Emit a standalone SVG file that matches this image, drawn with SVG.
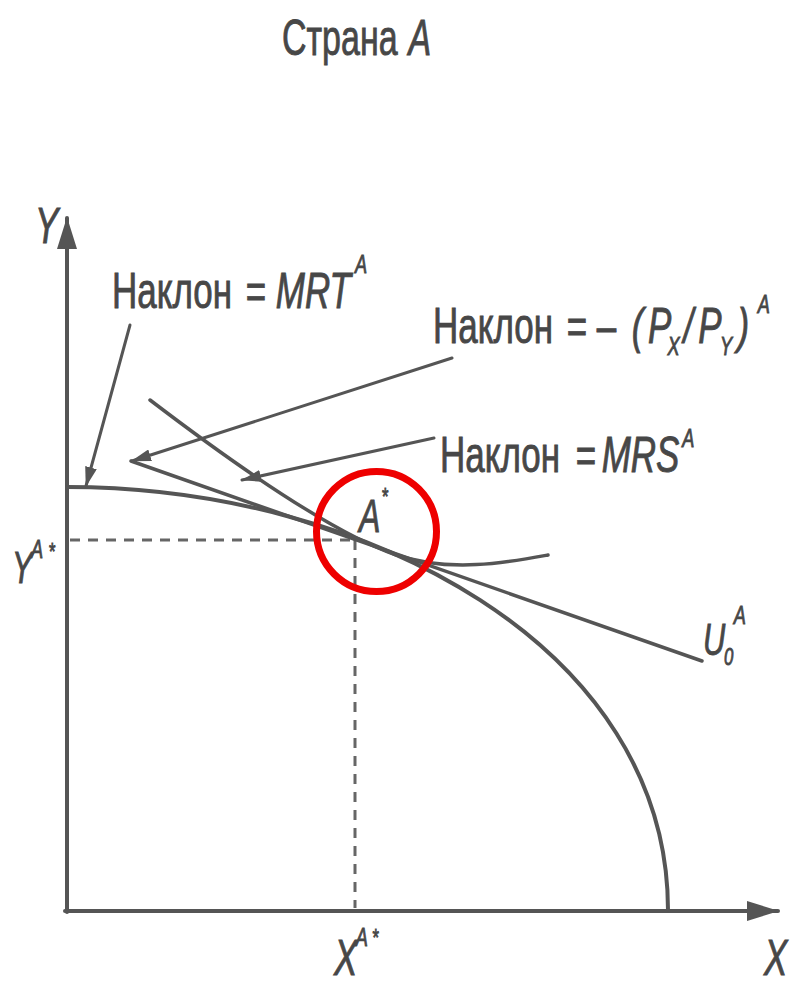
<svg xmlns="http://www.w3.org/2000/svg" width="797" height="987" viewBox="0 0 797 987">
<style>
.t{font-family:"Liberation Sans","DejaVu Sans",sans-serif;fill:#474747;stroke:#474747;stroke-width:0.9;}
.i{font-style:italic;}
.ln{fill:none;stroke:#555;stroke-linecap:round;}
.dash{fill:none;stroke:#666;stroke-width:3;stroke-dasharray:10 8;}
</style>
<defs>
<marker id="ah" viewBox="0 0 20 12" refX="19" refY="6" markerWidth="20" markerHeight="12" orient="auto" markerUnits="userSpaceOnUse"><path d="M0,0 L20,6 L0,12 z" fill="#555"/></marker>
<marker id="axh" viewBox="0 0 32 20" refX="31" refY="10" markerWidth="32" markerHeight="20" orient="auto" markerUnits="userSpaceOnUse"><path d="M0,0 L32,10 L0,20 z" fill="#555"/></marker>
</defs>
<rect width="797" height="987" fill="#ffffff"/>

<g id="title">
<text class="t" transform="translate(282,55) scale(0.68,1)" font-size="50">Страна<tspan class="i" x="186">A</tspan></text>
</g>

<g id="axes">
<path class="ln" d="M67,912 L67,218" stroke-width="4" marker-end="url(#axh)"/>
<path class="ln" d="M65,911 L778,911" stroke-width="4" marker-end="url(#axh)"/>
<text class="t i" transform="translate(35,243) scale(0.7,1)" font-size="50">Y</text>
<text class="t i" transform="translate(764,975) scale(0.7,1)" font-size="50">X</text>
</g>

<g id="guides">
<path class="dash" d="M70,540 L355,540"/>
<path class="dash" d="M355,540 L355,908"/>
<text class="t i" transform="translate(12,583) scale(0.7,1)" font-size="44">Y<tspan x="27" y="-25" font-size="26">A</tspan><tspan x="53" y="-23" font-size="24" font-style="normal">*</tspan></text>
<text class="t i" transform="translate(334,975) scale(0.7,1)" font-size="50">X<tspan x="31" y="-29" font-size="26">A</tspan><tspan x="55" y="-29" font-size="24" font-style="normal">*</tspan></text>
</g>

<g id="ppf">
<path class="ln" d="M67,487 C367.5,487 668,647.7 668,910" stroke-width="4"/>
</g>

<g id="price-line">
<path class="ln" d="M131,461 L702,661" stroke-width="3.5"/>
</g>

<g id="indifference-curve">
<path class="ln" d="M150,400 C230,461 330,532 395,554.5 C450,573.6 510,562 548,555" stroke-width="3.5"/>
<text class="t i" transform="translate(703,655) scale(0.7,1)" font-size="44">U<tspan x="30" y="10" font-size="24">0</tspan><tspan x="44" y="-31" font-size="26">A</tspan></text>
</g>

<g id="point-A">
<text class="t i" transform="translate(359,532) scale(0.7,1)" font-size="46">A<tspan x="33" y="-27" font-size="24" font-style="normal">*</tspan></text>
<circle cx="376.5" cy="531.5" r="60" fill="none" stroke="#ee0000" stroke-width="7"/>
</g>

<g id="label-MRT">
<text class="t" transform="translate(112,308) scale(0.7,1)" font-size="50">Наклон<tspan x="191">=</tspan><tspan class="i" x="234">MRT</tspan><tspan class="i" x="347" y="-35" font-size="26">A</tspan></text>
</g>

<g id="label-price">
<text class="t" transform="translate(433,343) scale(0.7,1)" font-size="50">Наклон<tspan x="191">=</tspan><tspan x="234">–</tspan><tspan class="i" x="284">(</tspan><tspan class="i" x="307">P</tspan><tspan class="i" x="335" y="12" font-size="26">X</tspan><tspan class="i" x="358" y="0">/</tspan><tspan class="i" x="379">P</tspan><tspan class="i" x="410" y="12" font-size="26">Y</tspan><tspan class="i" x="435" y="0">)</tspan><tspan class="i" x="464" y="-30" font-size="26">A</tspan></text>
</g>

<g id="label-MRS">
<text class="t" transform="translate(440,472) scale(0.7,1)" font-size="50">Наклон<tspan x="194">=</tspan><tspan class="i" x="231">MRS</tspan><tspan class="i" x="346" y="-25" font-size="26">A</tspan></text>
</g>

<g id="connectors">
<path class="ln" d="M130,325 L86,486" stroke-width="3" marker-end="url(#ah)"/>
<path class="ln" d="M452,358 L132,461" stroke-width="3" marker-end="url(#ah)"/>
<path class="ln" d="M434,438 L242,480" stroke-width="3" marker-end="url(#ah)"/>
</g>
</svg>
